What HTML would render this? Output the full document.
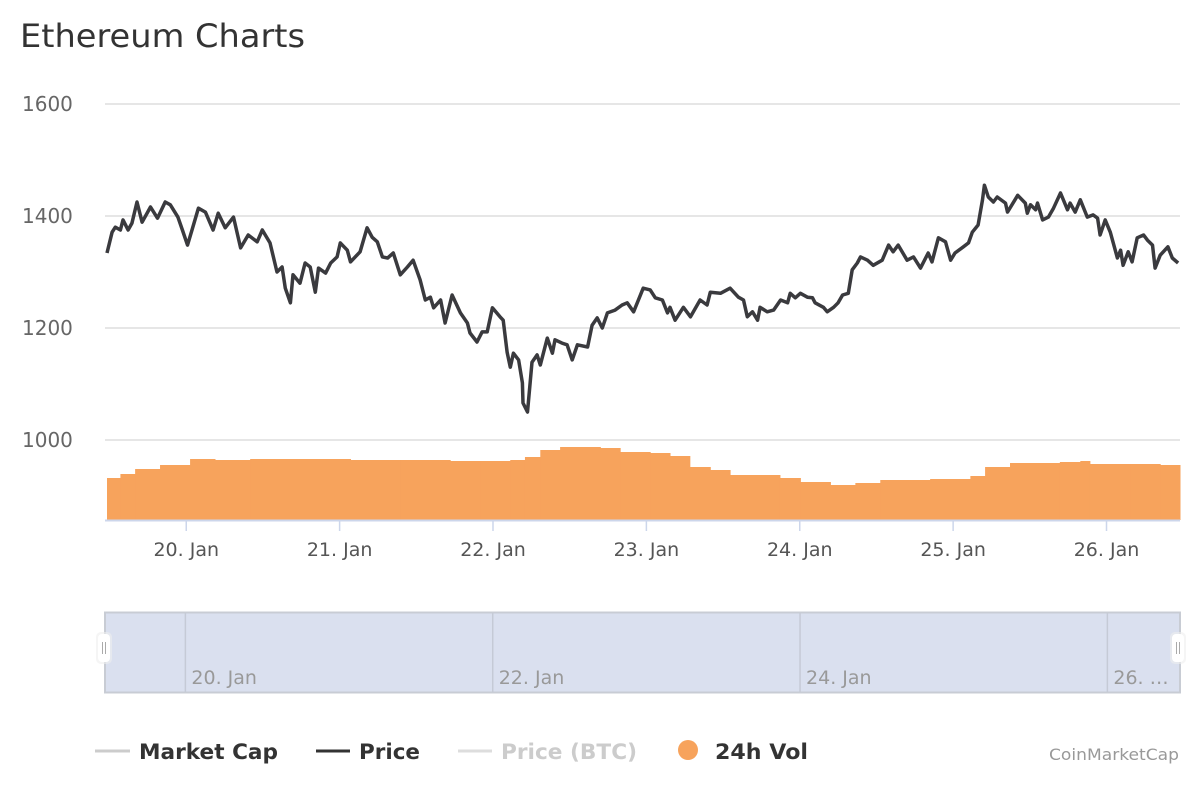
<!DOCTYPE html>
<html><head><meta charset="utf-8"><style>
body{margin:0;background:#fff;font-family:"DejaVu Sans","Liberation Sans",sans-serif;}
svg{display:block}
</style></head><body>
<svg id="c" width="1200" height="800">
<text x="20" y="47" font-size="32" fill="#333" textLength="285" lengthAdjust="spacingAndGlyphs">Ethereum Charts</text>
<g id="grid"></g><g id="vol"></g><g id="price"></g><g id="xaxis"></g><g id="nav"></g>
<g>
<g><line x1="95" y1="751" x2="130" y2="751" stroke="#ccc" stroke-width="3"/><text x="139" y="759" font-size="21" font-weight="bold" fill="#333" textLength="139" lengthAdjust="spacingAndGlyphs">Market Cap</text></g>
<g><line x1="316" y1="751" x2="350" y2="751" stroke="#333" stroke-width="3"/><text x="359" y="759" font-size="21" font-weight="bold" fill="#333" textLength="61" lengthAdjust="spacingAndGlyphs">Price</text></g>
<g><line x1="458" y1="751" x2="492" y2="751" stroke="#ddd" stroke-width="3"/><text x="501" y="759" font-size="21" font-weight="bold" fill="#ccc" textLength="136" lengthAdjust="spacingAndGlyphs">Price (BTC)</text></g>
<g><circle cx="688" cy="750" r="10" fill="#f7a35c"/><text x="715" y="759" font-size="21" font-weight="bold" fill="#333" textLength="93" lengthAdjust="spacingAndGlyphs">24h Vol</text></g>
</g>
<text x="1179" y="760" font-size="16" fill="#999" text-anchor="end" textLength="130" lengthAdjust="spacingAndGlyphs">CoinMarketCap</text>
</svg>
<script>
const priceHours=[11.6,12.4,12.9,13.7,14.1,14.9,15.5,16.3,17.1,18.4,19.5,20.7,21.5,22.7,23.4,24.2,24.9,25.9,27.0,28.2,29.0,30.1,31.4,32.5,33.7,35.1,35.9,37.1,38.2,39.0,39.5,40.3,40.7,41.8,42.6,43.4,44.2,44.7,45.8,46.6,47.6,48.1,49.2,49.7,51.2,52.3,53.1,53.9,54.7,55.5,56.4,57.5,58.6,59.5,60.6,61.4,62.2,62.7,63.8,64.5,65.6,66.9,68.0,68.4,69.5,70.3,71.1,71.9,73.1,73.6,74.2,74.7,75.2,76.0,76.6,76.7,77.4,78.1,78.9,79.4,80.5,81.3,81.7,82.8,83.6,84.4,85.2,86.8,87.5,88.3,89.1,89.9,91.1,92.2,93.0,94.0,95.5,96.6,97.4,98.5,99.3,99.7,100.5,101.8,102.9,104.4,105.5,106.0,107.6,109.1,110.4,111.2,111.8,112.6,113.4,113.8,114.9,115.9,117.0,118.1,118.5,119.3,120.1,121.2,122.0,122.4,123.7,124.3,125.3,126.0,126.7,127.6,128.2,129.0,129.5,130.6,131.5,132.9,133.9,134.6,135.4,136.8,137.8,138.9,140.1,140.7,141.7,142.8,143.6,144.3,145.6,146.4,147.0,147.9,148.6,148.9,149.5,150.3,150.9,152.2,152.5,154.1,155.3,155.6,156.1,156.9,157.2,158.0,158.9,159.7,160.8,161.9,162.3,163.1,163.9,165.0,165.9,166.6,167.0,167.8,168.6,169.7,170.2,170.6,171.4,172.0,172.8,173.8,174.4,175.2,175.6,176.4,177.6,178.3,179.2];
const priceValues=[1334,1371,1380,1375,1393,1375,1387,1425,1389,1416,1396,1425,1420,1398,1375,1348,1375,1414,1407,1375,1405,1379,1398,1343,1366,1354,1375,1352,1300,1309,1271,1245,1295,1280,1316,1309,1264,1307,1298,1316,1327,1352,1339,1318,1336,1379,1362,1354,1327,1325,1334,1295,1309,1321,1286,1250,1255,1236,1250,1209,1259,1227,1209,1191,1175,1193,1193,1236,1220,1214,1157,1130,1155,1143,1102,1066,1050,1139,1152,1134,1182,1155,1179,1173,1170,1143,1170,1166,1205,1218,1200,1227,1232,1241,1245,1229,1271,1268,1254,1250,1227,1237,1214,1237,1220,1250,1241,1264,1262,1271,1255,1250,1220,1229,1214,1237,1229,1232,1250,1245,1262,1254,1262,1255,1254,1245,1237,1229,1237,1245,1259,1262,1304,1316,1327,1321,1312,1321,1348,1336,1348,1321,1327,1307,1334,1318,1361,1354,1321,1334,1345,1352,1371,1384,1429,1455,1434,1425,1434,1423,1407,1437,1423,1405,1420,1411,1423,1393,1398,1414,1441,1411,1423,1407,1429,1398,1402,1396,1366,1393,1371,1325,1339,1312,1336,1318,1361,1366,1357,1348,1307,1330,1345,1325,1316];
const volHours=[11.6,13.7,16.0,19.9,24.6,28.5,34.0,41.8,49.7,57.5,65.3,70.0,74.7,77.0,79.4,82.5,88.8,91.9,96.6,99.7,102.8,106.0,109.1,116.9,120.1,124.8,128.7,132.6,140.4,146.7,149.0,152.9,160.7,163.9,165.4,171.7,176.4];
const volValues=[21,23,25.5,27.5,30.5,30,30.5,30.5,30,30,29.5,29.5,30,31.5,35,36.5,36,34,33.5,32,26.5,25,22.5,21,19,17.5,18.5,20,20.5,22,26.5,28.5,29,29.5,28,28,27.5];
const yTicks=[1000,1200,1400,1600];
const dayLabels=["20. Jan","21. Jan","22. Jan","23. Jan","24. Jan","25. Jan","26. Jan"];
const dayHours=[24,48,72,96,120,144,168];
const navLabels=["20. Jan","22. Jan","24. Jan","26. …"];
const navHours=[24,72,120,168];
const H0=11.6,H1=179.5;
const ns='http://www.w3.org/2000/svg';
function X(h){return 107+(h-H0)*(1180-107)/(H1-H0);}
function Y(p){return 440-(p-1000)*(440-104)/600;}
function YV(v){return 520-v*2;}
function NX(h){return 105+(h-H0)*(1180-105)/(H1-H0)+1;}
function mk(tag,attrs,parent){const e=document.createElementNS(ns,tag);for(const k in attrs)e.setAttribute(k,attrs[k]);parent.appendChild(e);return e;}
const grid=document.getElementById('grid');
yTicks.forEach(t=>{
 const l=mk('line',{x1:105,x2:1180,y1:Y(t),y2:Y(t),stroke:'#e6e6e6','stroke-width':2},grid);
 
 
 const tx=mk('text',{x:22,y:Y(t)+7,'font-size':20,fill:'#666'},grid);
 tx.textContent=t;
 
 
});
const vol=document.getElementById('vol');
for(let i=0;i<volHours.length;i++){
 const x0=X(volHours[i]),x1=i<volHours.length-1?X(volHours[i+1]):1180;
 const r=mk('rect',{x:x0,y:YV(volValues[i]),width:x1-x0+0.5,height:520-YV(volValues[i]),fill:'#f7a35c'},vol);
 
 
}
const pg=document.getElementById('price');
let d='';priceHours.forEach((h,i)=>{d+=(i?'L':'M')+X(h).toFixed(1)+' '+Y(priceValues[i]).toFixed(1);});
const pl=mk('path',{d:d,fill:'none',stroke:'#3a3a3e','stroke-width':3.5,'stroke-linejoin':'round'},pg);


const xa=document.getElementById('xaxis');
const al=mk('line',{x1:105,x2:1180,y1:520.5,y2:520.5,stroke:'#ccd6eb','stroke-width':2},xa);


dayHours.forEach((h,i)=>{
 const t=mk('line',{x1:X(h),x2:X(h),y1:520,y2:531,stroke:'#ccd6eb','stroke-width':1.5},xa);
 
 
 const tx=mk('text',{x:X(h),y:556,'font-size':19,fill:'#555','text-anchor':'middle'},xa);
 tx.textContent=dayLabels[i];
 
 
});
const nav=document.getElementById('nav');
const nr=mk('rect',{x:105,y:612.5,width:1075,height:80,fill:'#dae0ef',stroke:'#c8ccd4','stroke-width':2},nav);


navHours.forEach((h,i)=>{
 const l=mk('line',{x1:NX(h),x2:NX(h),y1:613,y2:692,stroke:'#c5cad6','stroke-width':1.5},nav);
 
 
 const tx=mk('text',{x:NX(h)+6,y:684,'font-size':19,fill:'#999'},nav);
 tx.textContent=navLabels[i];
 
 
});
[104,1178].forEach((x,i)=>{
 const g=mk('g',{},nav);
 
 
 mk('rect',{x:x-8,y:632,width:16,height:32,rx:5,fill:'#eee',opacity:0.6},g);
 mk('rect',{x:x-6,y:634,width:12,height:28,rx:4,fill:'#fff'},g);
 mk('line',{x1:x-1.5,x2:x-1.5,y1:642,y2:654,stroke:'#aaa','stroke-width':1},g);
 mk('line',{x1:x+1.5,x2:x+1.5,y1:642,y2:654,stroke:'#aaa','stroke-width':1},g);
});
</script>
</body></html>
